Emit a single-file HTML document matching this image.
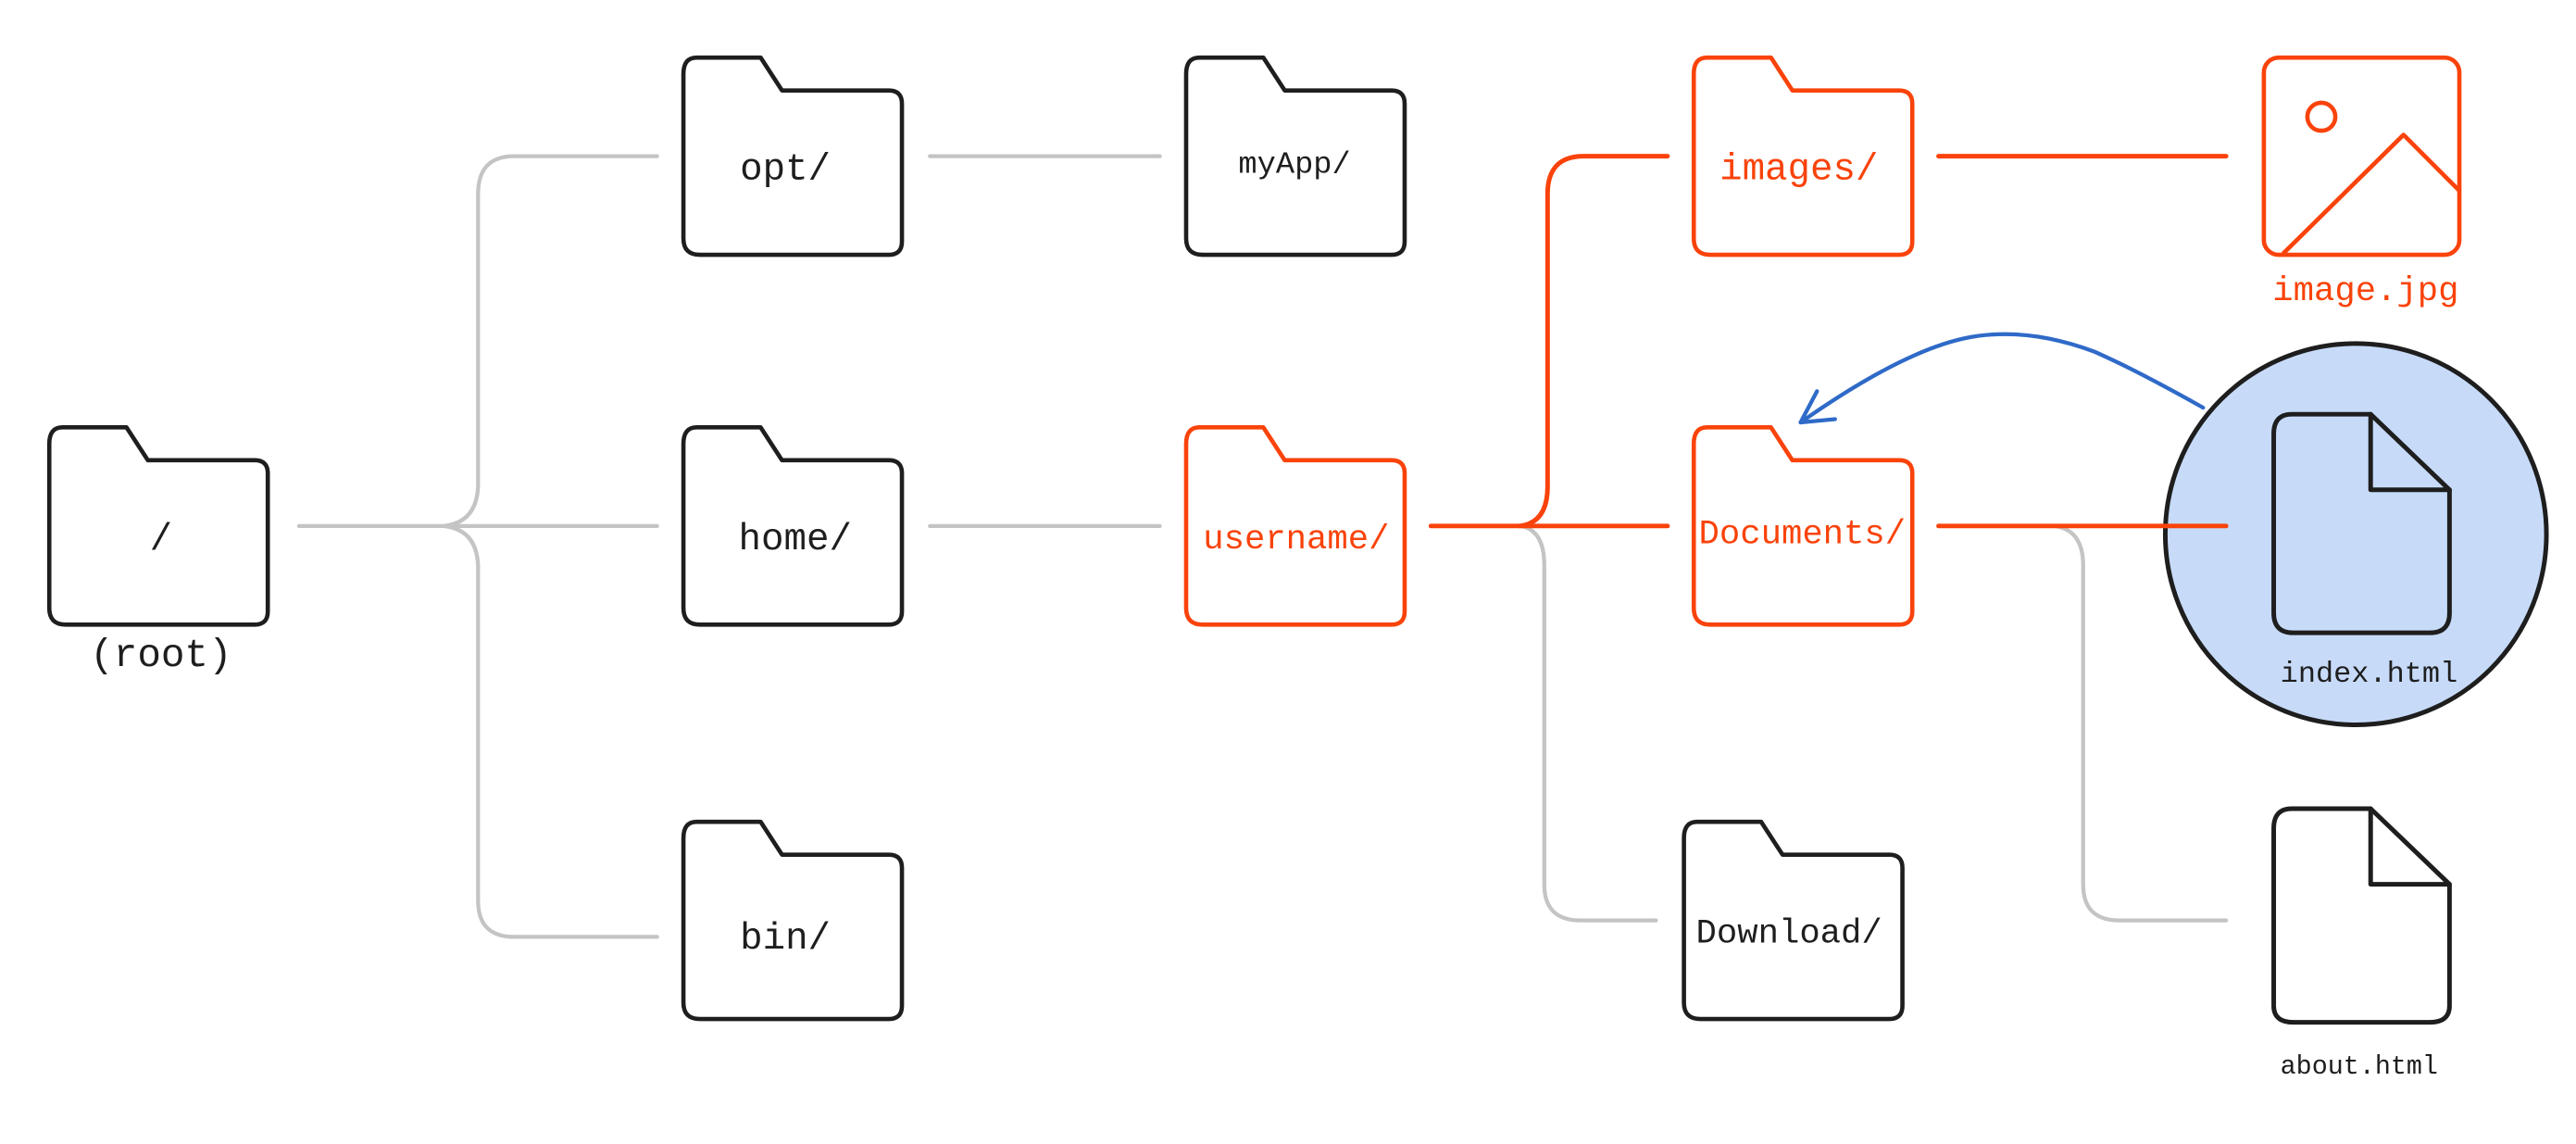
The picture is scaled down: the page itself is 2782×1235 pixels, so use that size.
<!DOCTYPE html>
<html><head><meta charset="utf-8"><style>
html,body{margin:0;padding:0;background:#fff;}
svg{display:block}
text{font-family:"Liberation Mono","DejaVu Sans Mono",monospace;text-anchor:middle;dominant-baseline:middle}
</style></head><body>
<svg width="2782" height="1235" viewBox="0 0 1568 696" xmlns="http://www.w3.org/2000/svg">
<defs>
<path id="fold" d="M8,0 H47 L60,20 H125 Q133,20 133,28 V112 Q133,120 125,120 H10 Q0,120 0,110 V10 Q0,0 8,0 Z"/>
</defs>
<g fill="none" stroke-linecap="round" stroke-linejoin="round">
<g stroke="#c4c4c4" stroke-width="2.4">
<path d="M182,320 H400"/>
<path d="M270,320 Q290,318 291,296 V118 Q291,95 313,95 H400"/>
<path d="M270,320 Q290,322 291,344 V548 Q291,570 313,570 H400"/>
<path d="M566,95 H706"/>
<path d="M566,320 H706"/>
<path d="M925,320 Q940,322 940,344 V538 Q940,560 962,560 H1008"/>
<path d="M1250,320 Q1268,322 1268,344 V538 Q1268,560 1290,560 H1355"/>
</g>
<circle cx="1434" cy="325" r="116" fill="#c7dbf9" stroke="#1e1e1e" stroke-width="2.8"/>
<g stroke="#f9430b" stroke-width="2.8">
<path d="M871,320 H1015"/>
<path d="M925,320 Q942,318 942,296 V118 Q942,95 964,95 H1015"/>
<path d="M1180,95 H1355"/>
<path d="M1180,320 H1355"/>
</g>
<g stroke="#1e1e1e" stroke-width="2.6" fill="#fff">
<use href="#fold" x="30" y="260"/>
<use href="#fold" x="416" y="35"/>
<use href="#fold" x="722" y="35"/>
<use href="#fold" x="416" y="260"/>
<use href="#fold" x="416" y="500"/>
<use href="#fold" x="1025" y="500"/>
</g>
<g stroke="#f9430b" stroke-width="2.6" fill="#fff">
<use href="#fold" x="722" y="260"/>
<use href="#fold" x="1031" y="35"/>
<use href="#fold" x="1031" y="260"/>
<rect x="1378" y="35" width="119" height="120" rx="9"/>
<circle cx="1413" cy="71" r="8.5"/>
<path d="M1390,154 L1463,82 L1497,116"/>
</g>
<g stroke="#1e1e1e" stroke-width="2.8">
<path d="M1395,252 H1443 L1491,298 V373 Q1491,385 1479,385 H1396 Q1384,385 1384,373 V264 Q1384,252 1395,252 Z"/>
<path d="M1443,252 V298 H1491"/>
<path d="M1395,492 H1443 L1491,538 V612 Q1491,622 1479,622 H1396 Q1384,622 1384,612 V504 Q1384,492 1395,492 Z" fill="#fff"/>
<path d="M1443,492 V538 H1491"/>
</g>
<g stroke="#2f6ac8" stroke-width="2.4">
<path d="M1341,248 Q1300,225 1275,214 Q1235,199 1200,205 Q1160,212 1096,257"/>
<path d="M1096,257 L1106,238 M1096,257 L1117,255"/>
</g>
</g>
<g font-size="23" fill="#1e1e1e">
<text x="98" y="328">/</text>
<text x="98" y="399" font-size="24">(root)</text>
<text x="478" y="103">opt/</text>
<text x="788" y="100" font-size="19">myApp/</text>
<text x="484" y="328">home/</text>
<text x="478" y="571">bin/</text>
<text x="1089" y="568" font-size="21">Download/</text>
<text x="1442" y="410" font-size="18">index.html</text>
<text x="1436" y="649" font-size="16">about.html</text>
</g>
<g font-size="21" fill="#f9430b">
<text x="789" y="328">username/</text>
<text x="1095" y="103" font-size="23">images/</text>
<text x="1097" y="325">Documents/</text>
<text x="1440" y="177">image.jpg</text>
</g>
</svg>
</body></html>
